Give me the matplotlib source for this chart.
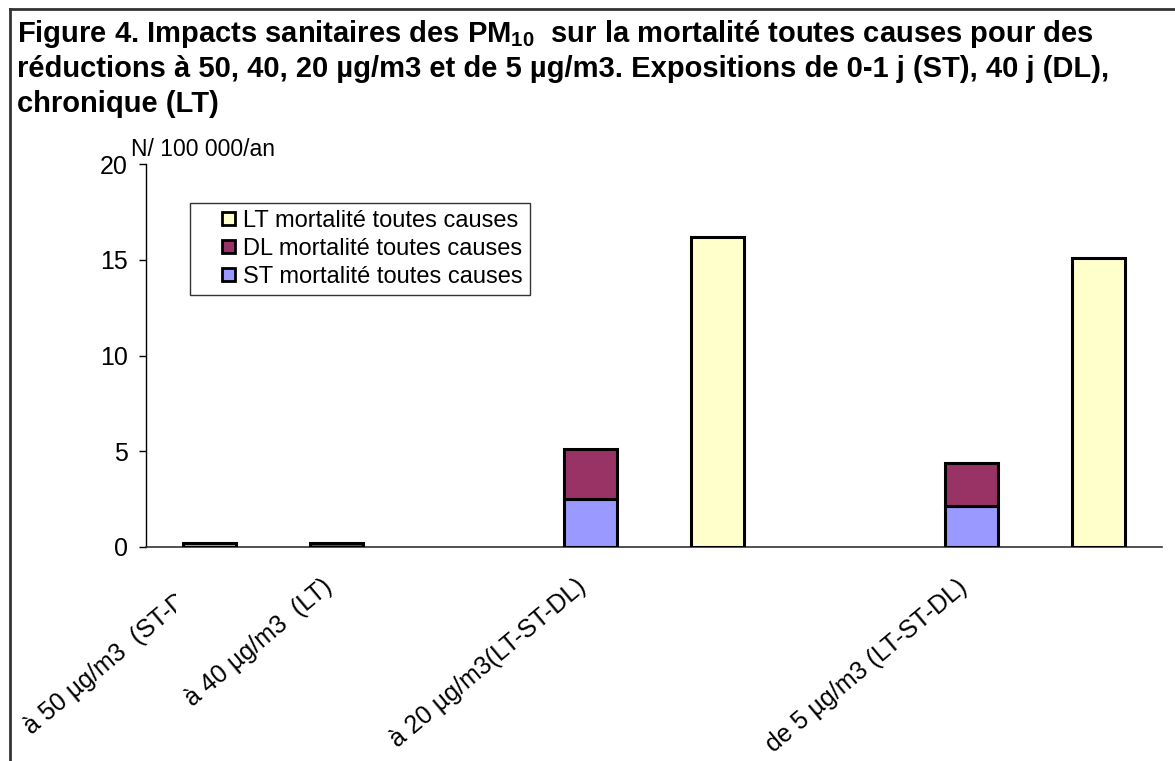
import numpy as np
import matplotlib
matplotlib.use("Agg")
import matplotlib.pyplot as plt
from matplotlib.patches import Patch, Rectangle
from matplotlib.lines import Line2D
from matplotlib.legend_handler import HandlerPatch

plt.rcParams['font.family'] = ['Liberation Sans', 'DejaVu Sans']
plt.rcParams['mathtext.fontset'] = 'custom'
plt.rcParams['mathtext.rm'] = 'Liberation Sans:bold'
plt.rcParams['mathtext.bf'] = 'Liberation Sans:bold'

# data (N / 100 000 / an)
categories = ["à 50 µg/m3  (ST-DL)", "à 40 µg/m3  (LT)", "", "à 20 µg/m3(LT-ST-DL)",
              "", "", "de 5 µg/m3 (LT-ST-DL)", ""]
st_vals = [0.2, np.nan, np.nan, 2.5, np.nan, np.nan, 2.15, np.nan]
dl_vals = [np.nan, 0.2, np.nan, 2.6, np.nan, np.nan, 2.25, np.nan]
lt_vals = [np.nan, np.nan, np.nan, np.nan, 16.2, np.nan, np.nan, 15.1]
series_names = ["LT mortalité toutes causes", "DL mortalité toutes causes", "ST mortalité toutes causes"]
title_lines = ["Figure 4. Impacts sanitaires des PM$_{\\mathbf{10}}$  sur la mortalité toutes causes pour des",
               "réductions à 50, 40, 20 µg/m3 et de 5 µg/m3. Expositions de 0-1 j (ST), 40 j (DL),",
               "chronique (LT)"]

c_lt = '#FFFFCC'
c_dl = '#993366'
c_st = '#9999FF'

W, H = 1175, 761
fig = plt.figure(figsize=(W / 100, H / 100), dpi=100)
ax = fig.add_axes([146 / W, 1 - 547 / H, 1016 / W, 383 / H])

x = np.arange(len(categories))
bw = 0.41
st = np.array(st_vals)
dl = np.array(dl_vals)
lt = np.array(lt_vals)

ax.bar(x, st, bw, color=c_st, edgecolor='black', linewidth=2.2, zorder=3)
ax.bar(x, dl, bw, bottom=np.nan_to_num(st), color=c_dl, edgecolor='black', linewidth=2.2, zorder=3)
ax.bar(x, lt, bw, color=c_lt, edgecolor='black', linewidth=2.2, zorder=3)

ax.set_xlim(-0.5, len(categories) - 0.5)
ax.set_ylim(0, 20)
ax.set_yticks([0, 5, 10, 15, 20])
ax.tick_params(axis='y', labelsize=18, length=5, width=1, pad=8, direction='out')
ax.set_xticks(x)
ax.set_xticklabels(categories, rotation=40, ha='right', va='top', fontsize=18)
ax.tick_params(axis='x', length=0, pad=20)

for s in ['top', 'right']:
    ax.spines[s].set_visible(False)
ax.spines['left'].set_linewidth(1)
ax.spines['bottom'].set_linewidth(1.2)
ax.spines['bottom'].set_color('#333333')

# first label is cut off in the original
lab0 = ax.get_xticklabels()[0]
lab0.set_clip_on(True)
lab0.set_clip_path(Rectangle((0, 0), 176 / W, 1, transform=fig.transFigure))

ax.text(131 / W, 1 - 156 / H, "N/ 100 000/an", transform=fig.transFigure,
        fontsize=16.5, ha='left', va='baseline')


# square swatch pushed to the right end of the handle box
def square(legend, orig_handle, xdescent, ydescent, width, height, fontsize):
    s = 0.55 * fontsize
    return Rectangle((-xdescent + width - s, -ydescent + (height - s) / 2), s, s)


handles = [Patch(facecolor=c_lt, edgecolor='black', linewidth=2),
           Patch(facecolor=c_dl, edgecolor='black', linewidth=2),
           Patch(facecolor=c_st, edgecolor='black', linewidth=2)]
leg = ax.legend(handles, series_names, loc='upper left', bbox_to_anchor=(44 / 1016, (547 - 203) / 383),
                borderaxespad=0, fontsize=17, frameon=True, fancybox=False,
                handlelength=1.6, handleheight=0.7, handletextpad=0.35,
                labelspacing=0.25, borderpad=0.3,
                handler_map={Patch: HandlerPatch(patch_func=square)})
leg.get_frame().set_edgecolor('black')
leg.get_frame().set_linewidth(1)

for i, line in enumerate(title_lines):
    fig.text(17 / W, 1 - (42 + 35 * i) / H, line, fontsize=21, fontweight='bold',
             ha='left', va='baseline')

# frame around the figure
fig.add_artist(Line2D([10 / W, 10 / W], [0, 1 - 9 / H], transform=fig.transFigure,
                      color='#333333', linewidth=2))
fig.add_artist(Line2D([10 / W, 1], [1 - 9 / H, 1 - 9 / H], transform=fig.transFigure,
                      color='#333333', linewidth=2))

plt.savefig('out.png', dpi=100)
